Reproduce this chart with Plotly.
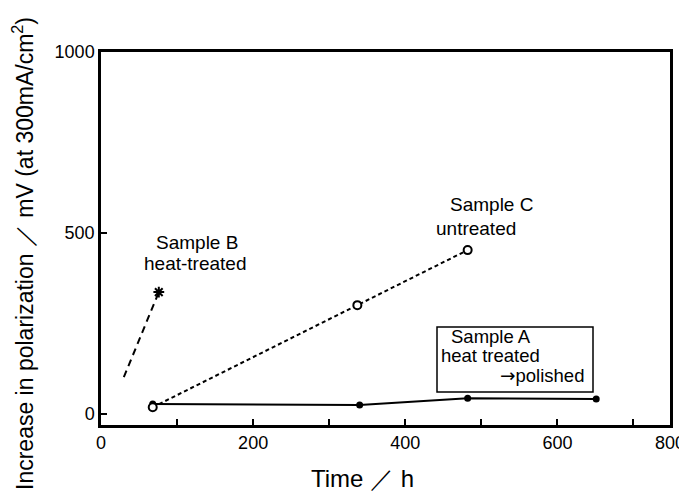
import plotly.graph_objects as go

# ---- data ----
a_time = [68, 340, 482, 651]
a_pol = [28, 25, 44, 42]

c_time = [68, 337, 482]
c_pol = [19, 301, 453]

b_time = [30, 76]
b_pol = [102, 337]

x_tickvals = [0, 100, 200, 300, 400, 500, 600, 700, 748]
x_ticktext = ["0", "", "200", "", "400", "", "600", "", "800"]
y_tickvals = [0, 500, 1000]
y_ticktext = ["0", "500", "1000"]

FONT = "Liberation Sans, Arial, Helvetica, sans-serif"
OFF = 8  # page body margin

fig = go.Figure()

fig.add_trace(go.Scatter(
    x=a_time, y=a_pol, mode="lines+markers",
    line=dict(color="black", width=2),
    marker=dict(symbol="circle", size=7, color="black"),
    showlegend=False))

fig.add_trace(go.Scatter(
    x=c_time, y=c_pol, mode="lines+markers",
    line=dict(color="black", width=2, dash="4px,3px"),
    marker=dict(symbol="circle", size=8, color="white",
                line=dict(color="black", width=2)),
    showlegend=False))

fig.add_trace(go.Scatter(
    x=b_time, y=b_pol, mode="lines",
    line=dict(color="black", width=2, dash="7px,5px"),
    showlegend=False))

fig.add_trace(go.Scatter(
    x=b_time[-1:], y=b_pol[-1:], mode="markers",
    marker=dict(symbol="asterisk-open", size=9, color="black",
                line=dict(color="black", width=2)),
    showlegend=False))

# plot area in reference pixels
L, R, T, B = 101, 670, 52, 425
W, H = 687 - OFF, 495 - OFF
def px(x):
    return (x - L) / (R - L)
def py(y):
    return (B - y) / (B - T)

ann_font = dict(family=FONT, size=19, color="black")
box_font = dict(family=FONT, size=18.5, color="black")
annotations = [
    dict(text="Sample B", x=px(197), y=py(242), xanchor="center"),
    dict(text="heat-treated", x=px(195), y=py(264), xanchor="center"),
    dict(text="Sample C", x=px(491), y=py(204), xanchor="center"),
    dict(text="untreated", x=px(476), y=py(228), xanchor="center"),
    dict(text="Sample A", x=px(449), y=py(336), xanchor="left", font=box_font),
    dict(text="heat treated", x=px(439), y=py(355), xanchor="left", font=box_font),
    dict(text='<span style="font-family:DejaVu Sans">→</span>polished',
         x=px(586), y=py(375), xanchor="right", font=box_font),
    dict(text="Time ／ h", x=px(362), y=py(478), xanchor="center",
         font=dict(family=FONT, size=24, color="black")),
    dict(text="Increase in polarization ／ mV (at 300mA/cm<sup>2</sup>)",
         x=px(23), y=py(254), xanchor="center", textangle=-90,
         font=dict(family=FONT, size=23, color="black")),
]
for a in annotations:
    a.setdefault("font", ann_font)
    a.update(xref="paper", yref="paper", yanchor="middle", showarrow=False)

fig.update_layout(
    width=W, height=H,
    margin=dict(l=L - OFF, r=687 - R, t=T - OFF, b=495 - B),
    paper_bgcolor="white", plot_bgcolor="white",
    font=dict(family=FONT, color="black"),
    annotations=annotations,
    shapes=[dict(type="rect", xref="paper", yref="paper",
                 x0=px(437), x1=px(593), y0=py(392), y1=py(327),
                 line=dict(color="black", width=1.5), fillcolor="white",
                 layer="below")],
    xaxis=dict(
        range=[0, 748], tickmode="array", tickvals=x_tickvals,
        ticktext=x_ticktext, ticks="inside", ticklen=6, tickwidth=2,
        tickcolor="black", showline=True, linecolor="black", linewidth=2.5,
        mirror=True, showgrid=False, zeroline=False, automargin=False,
        tickfont=dict(family=FONT, size=18, color="black"),
    ),
    yaxis=dict(
        range=[-30, 1000], tickmode="array", tickvals=y_tickvals,
        ticktext=y_ticktext, ticks="inside", ticklen=6, tickwidth=2,
        tickcolor="black", showline=True, linecolor="black", linewidth=2.5,
        mirror=True, showgrid=False, zeroline=False, automargin=False,
        tickfont=dict(family=FONT, size=18, color="black"),
    ),
)

fig.write_html("out.html")
